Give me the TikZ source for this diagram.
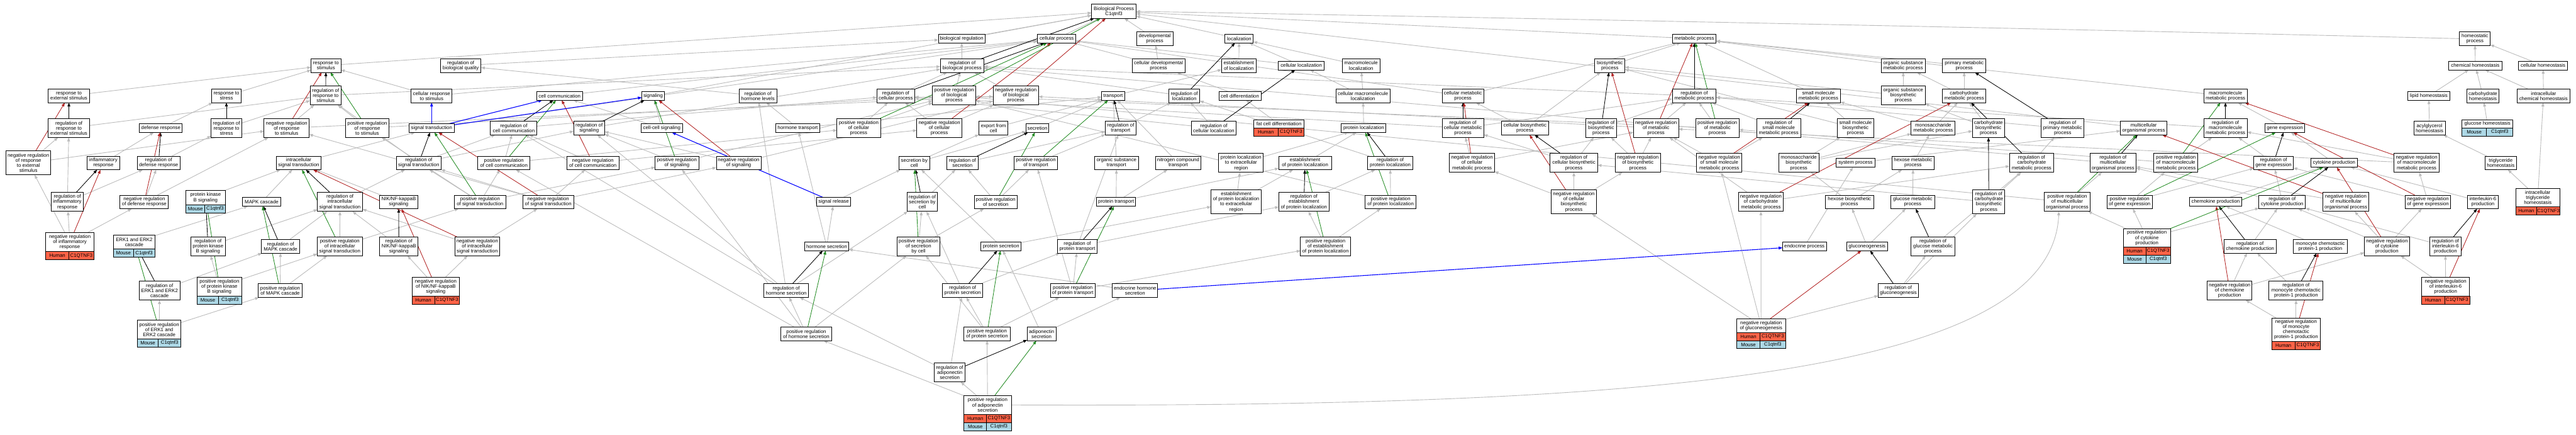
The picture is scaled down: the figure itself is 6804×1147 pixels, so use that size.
\documentclass[tikz,border=0pt]{standalone}
\usepackage{fontspec}
\setmainfont{Liberation Sans}
\usetikzlibrary{arrows.meta,calc,backgrounds}
\definecolor{edgegray}{RGB}{188,188,188}
\definecolor{tomatoc}{RGB}{255,99,71}
\definecolor{lblue}{RGB}{173,216,230}
\definecolor{fgreen}{RGB}{34,139,34}
\definecolor{fred}{RGB}{178,34,34}
\tikzset{
  box/.style={draw=black, line width=1.5pt, fill=white, align=center, inner xsep=2pt, inner ysep=0pt, outer sep=0pt, font=\fontsize{13}{13.5}\selectfont},
  cell/.style={draw=black, line width=1.2pt, inner sep=0pt, outer sep=0pt, minimum height=21.5pt, anchor=north west, font=\fontsize{13}{13.5}\selectfont},
  tip/.style={-{Triangle[length=10pt,width=7.5pt]}},
  isa/.style={tip, draw=edgegray, line width=1.5pt},
  regb/.style={tip, draw=black, line width=1.4pt},
  negr/.style={tip, draw=fred, line width=1.4pt},
  posg/.style={tip, draw=fgreen, line width=1.4pt},
  partb/.style={tip, draw=blue, line width=1.8pt}
}
\newcommand{\bx}[6]{\node[box,minimum width=#4pt,minimum height=#5pt] (#1) at (#2,#3) {#6};}
\newcommand{\gr}[7]{%
  \node[cell,fill=#3,minimum width=#6pt] (#1s#2) at ($(#1.south west)+(0,{21.5*#2})$) {#4};
  \node[cell,fill=#3,minimum width=#7pt] (#1g#2) at ($(#1.south west)+(#6,{21.5*#2})$) {#5};}
\begin{document}
\begin{tikzpicture}[x=1pt,y=-1pt]
\useasboundingbox (0,0) rectangle (6804,1147);
% rank 30/102
\bx{root}{2942}{30}{118}{37}{Biological Process\\C1qtnf3}
\bx{br}{2540}{102}{123}{23}{biological regulation}
\bx{cp}{2791}{102}{102}{23}{cellular process}
\bx{dp}{3050}{102}{96}{36}{developmental\\process}
\bx{loc}{3273}{102}{75}{23}{localization}
\bx{mp}{4475}{102}{116}{23}{metabolic process}
\bx{hp}{6537}{102}{81}{36}{homeostatic\\process}
% rank 173
\bx{rts}{861}{173}{79}{36}{response to\\stimulus}
\bx{rbq}{1217}{173}{107}{36}{regulation of\\biological quality}
\bx{rbp}{2541}{173}{115}{36}{regulation of\\biological process}
\bx{cdp}{3060}{173}{139}{36}{cellular developmental\\process}
\bx{eol}{3272}{173}{91}{36}{establishment\\of localization}
\bx{cl}{3437}{173}{121}{23}{cellular localization}
\bx{ml}{3595}{173}{99}{36}{macromolecule\\localization}
\bx{bp}{4252}{173}{80}{36}{biosynthetic\\process}
\bx{osmp}{5027}{173}{116}{36}{organic substance\\metabolic process}
\bx{pmp}{5188}{173}{115}{36}{primary metabolic\\process}
\bx{ch}{6538}{173}{140}{23}{chemical homeostasis}
\bx{cellh}{6717}{173}{130}{23}{cellular homeostasis}
% rank 253
\bx{rtes}{182}{253}{109}{36}{response to\\external stimulus}
\bx{rtstr}{598}{253}{79}{36}{response to\\stress}
\bx{rrts}{860}{252}{82}{50}{regulation of\\response to\\stimulus}
\bx{crts}{1140}{253}{108}{36}{cellular response\\to stimulus}
\bx{cc}{1478}{253}{122}{23}{cell communication}
\bx{sig}{1725}{253}{60}{23}{signaling}
\bx{rhl}{2002}{253}{99}{36}{regulation of\\hormone levels}
\bx{rcp}{2366}{253}{100}{36}{regulation of\\cellular process}
\bx{prbp}{2520}{252}{114}{50}{positive regulation\\of biological\\process}
\bx{nrbp}{2683}{252}{120}{50}{negative regulation\\of biological\\process}
\bx{tr}{2940}{253}{61}{23}{transport}
\bx{rloc}{3128}{253}{82}{36}{regulation of\\localization}
\bx{cd}{3275}{253}{111}{23}{cell differentiation}
\bx{cml}{3600}{253}{142}{36}{cellular macromolecule\\localization}
\bx{cmp}{3864}{253}{110}{36}{cellular metabolic\\process}
\bx{rmp}{4475}{253}{116}{36}{regulation of\\metabolic process}
\bx{smmp}{4803}{253}{116}{36}{small molecule\\metabolic process}
\bx{osbp}{5027}{252}{116}{50}{organic substance\\biosynthetic\\process}
\bx{chmp}{5188}{253}{115}{36}{carbohydrate\\metabolic process}
\bx{mmp}{5878}{253}{115}{36}{macromolecule\\metabolic process}
\bx{lh}{6415}{253}{111}{23}{lipid homeostasis}
\bx{chh}{6558}{253}{85}{36}{carbohydrate\\homeostasis}
\bx{ich}{6718}{253}{140}{36}{intracellular\\chemical homeostasis}
% rank 338
\bx{rrtes}{182}{338}{109}{50}{regulation of\\response to\\external stimulus}
\bx{dr}{425}{338}{113}{23}{defense response}
\bx{rrtstr}{598}{338}{81}{50}{regulation of\\response to\\stress}
\bx{nrrts}{757}{338}{119}{50}{negative regulation\\of response\\to stimulus}
\bx{prrts}{970}{338}{116}{50}{positive regulation\\of response\\to stimulus}
\bx{st}{1140}{338}{119}{23}{signal transduction}
\bx{rcc}{1357}{338}{123}{36}{regulation of\\cell communication}
\bx{rsig}{1556}{338}{82}{36}{regulation of\\signaling}
\bx{ccs}{1748}{338}{109}{23}{cell-cell signaling}
\bx{ht}{2107}{338}{115}{23}{hormone transport}
\bx{prcp}{2268}{338}{115}{50}{positive regulation\\of cellular\\process}
\bx{nrcp}{2481}{338}{119}{50}{negative regulation\\of cellular\\process}
\bx{efc}{2624}{338}{77}{36}{export from\\cell}
\bx{sec}{2740}{338}{61}{23}{secretion}
\bx{rtr}{2960}{338}{81}{36}{regulation of\\transport}
\bx{rcl}{3206}{338}{119}{36}{regulation of\\cellular localization}
\bx{fcd}{3378}{327}{133}{22}{fat cell differentiation}
\bx{pl}{3602}{338}{118}{23}{protein localization}
\bx{rcmp}{3864}{338}{110}{50}{regulation of\\cellular metabolic\\process}
\bx{cbp}{4028}{338}{125}{36}{cellular biosynthetic\\process}
\bx{rbiop}{4229}{338}{81}{50}{regulation of\\biosynthetic\\process}
\bx{nrmp}{4374}{338}{119}{50}{negative regulation\\of metabolic\\process}
\bx{prmp}{4536}{338}{115}{50}{positive regulation\\of metabolic\\process}
\bx{rsmmp}{4698}{338}{116}{50}{regulation of\\small molecule\\metabolic process}
\bx{smbp}{4901}{338}{97}{50}{small molecule\\biosynthetic\\process}
\bx{msmp}{5106}{338}{116}{36}{monosaccharide\\metabolic process}
\bx{chbp}{5252}{338}{85}{50}{carbohydrate\\biosynthetic\\process}
\bx{rpmp}{5448}{338}{113}{50}{regulation of\\primary metabolic\\process}
\bx{mop}{5662}{338}{123}{36}{multicellular\\organismal process}
\bx{rmmp}{5878}{338}{115}{50}{regulation of\\macromolecule\\metabolic process}
\bx{ge}{6035}{338}{105}{23}{gene expression}
\bx{agh}{6417}{338}{83}{36}{acylglycerol\\homeostasis}
\bx{gh}{6570}{327}{135}{22}{glucose homeostasis}
% rank 430
\bx{nrrtes}{75}{430}{118}{63}{negative regulation\\of response\\to external\\stimulus}
\bx{ir}{273}{430}{86}{36}{inflammatory\\response}
\bx{rdr}{419}{430}{113}{36}{regulation of\\defense response}
\bx{ist}{789}{430}{119}{36}{intracellular\\signal transduction}
\bx{rst}{1106}{430}{118}{36}{regulation of\\signal transduction}
\bx{prcc}{1331}{430}{138}{36}{positive regulation\\of cell communication}
\bx{nrcc}{1566}{430}{138}{36}{negative regulation\\of cell communication}
\bx{psig}{1788}{430}{115}{36}{positive regulation\\of signaling}
\bx{nsig}{1951}{430}{118}{36}{negative regulation\\of signaling}
\bx{sbc}{2415}{430}{82}{36}{secretion by\\cell}
\bx{rsec}{2542}{430}{82}{36}{regulation of\\secretion}
\bx{prtr}{2736}{430}{114}{36}{positive regulation\\of transport}
\bx{ost}{2949}{430}{116}{36}{organic substance\\transport}
\bx{nct}{3112}{430}{120}{36}{nitrogen compound\\transport}
\bx{plter}{3278}{430}{118}{50}{protein localization\\to extracellular\\region}
\bx{epl}{3447}{430}{139}{36}{establishment\\of protein localization}
\bx{rpl}{3672}{430}{119}{36}{regulation of\\protein localization}
\bx{nrcmp}{3888}{430}{119}{50}{negative regulation\\of cellular\\metabolic process}
\bx{rcbp}{4157}{430}{126}{50}{regulation of\\cellular biosynthetic\\process}
\bx{nrbiop}{4326}{430}{119}{50}{negative regulation\\of biosynthetic\\process}
\bx{nrsmmp}{4541}{430}{119}{50}{negative regulation\\of small molecule\\metabolic process}
\bx{msbp}{4751}{430}{106}{50}{monosaccharide\\biosynthetic\\process}
\bx{sp}{4901}{430}{104}{23}{system process}
\bx{hmp}{5053}{430}{112}{36}{hexose metabolic\\process}
\bx{rchmp}{5366}{430}{117}{50}{regulation of\\carbohydrate\\metabolic process}
\bx{rmop}{5581}{430}{122}{50}{regulation of\\multicellular\\organismal process}
\bx{pmmp}{5747}{430}{116}{50}{positive regulation\\of macromolecule\\metabolic process}
\bx{rge}{6005}{430}{105}{36}{regulation of\\gene expression}
\bx{cytp}{6165}{430}{122}{23}{cytokine production}
\bx{nmmp}{6383}{430}{120}{50}{negative regulation\\of macromolecule\\metabolic process}
\bx{tgh}{6605}{430}{84}{36}{triglyceride\\homeostasis}
% rank 533
\bx{rir}{178}{533}{85}{50}{regulation of\\inflammatory\\response}
\bx{nrdr}{381}{533}{128}{36}{negative regulation\\of defense response}
\bx{pkb}{543}{521.5}{104}{37}{protein kinase\\B signaling}
\bx{mapk}{691}{533}{102}{23}{MAPK cascade}
\bx{rist}{898}{533}{119}{50}{regulation of\\intracellular\\signal transduction}
\bx{nik}{1053}{533}{101}{36}{NIK/NF-kappaB\\signaling}
\bx{pst}{1268}{533}{135}{36}{positive regulation\\of signal transduction}
\bx{nst}{1448}{533}{134}{36}{negative regulation\\of signal transduction}
\bx{sr}{2202}{533}{90}{23}{signal release}
\bx{rsbc}{2436}{533}{81}{50}{regulation of\\secretion by\\cell}
\bx{psec}{2630}{533}{114}{36}{positive regulation\\of secretion}
\bx{pt}{2948}{533}{103}{23}{protein transport}
\bx{epler}{3265}{533}{133}{63}{establishment\\of protein localization\\to extracellular\\region}
\bx{repl}{3444}{533}{133}{50}{regulation of\\establishment\\of protein localization}
\bx{ppl}{3673}{533}{134}{36}{positive regulation\\of protein localization}
\bx{nrcbp}{4157}{533}{119}{63}{negative regulation\\of cellular\\biosynthetic\\process}
\bx{nrchmp}{4651}{533}{118}{50}{negative regulation\\of carbohydrate\\metabolic process}
\bx{hbp}{4885}{533}{127}{36}{hexose biosynthetic\\process}
\bx{gmp}{5052}{533}{115}{36}{glucose metabolic\\process}
\bx{rchbp}{5253}{533}{85}{63}{regulation of\\carbohydrate\\biosynthetic\\process}
\bx{pmop}{5460}{533}{122}{50}{positive regulation\\of multicellular\\organismal process}
\bx{pge}{5625}{533}{119}{36}{positive regulation\\of gene expression}
\bx{chp}{5852}{533}{137}{23}{chemokine production}
\bx{rcytp}{6028}{533}{123}{36}{regulation of\\cytokine production}
\bx{nmop}{6196}{533}{122}{50}{negative regulation\\of multicellular\\organismal process}
\bx{nge}{6413}{533}{119}{36}{negative regulation\\of gene expression}
\bx{il6p}{6558}{533}{80}{36}{interleukin-6\\production}
\bx{itgh}{6703}{521.5}{117}{49}{intracellular\\triglyceride\\homeostasis}
% rank 650
\bx{nrir}{184.5}{639}{127}{50}{negative regulation\\of inflammatory\\response}
\bx{erk}{354.5}{639}{109}{36}{ERK1 and ERK2\\cascade}
\bx{rpkb}{549.5}{650}{91}{50}{regulation of\\protein kinase\\B signaling}
\bx{rmapk}{741}{650}{102}{36}{regulation of\\MAPK cascade}
\bx{prist}{897.5}{650}{119}{50}{positive regulation\\of intracellular\\signal transduction}
\bx{rnik}{1053.5}{650}{101}{50}{regulation of\\NIK/NF-kappaB\\signaling}
\bx{nrist}{1260.5}{650}{119}{50}{negative regulation\\of intracellular\\signal transduction}
\bx{hs}{2183.5}{650}{117}{23}{hormone secretion}
\bx{psbc}{2426}{650}{114}{50}{positive regulation\\of secretion\\by cell}
\bx{ps}{2644}{650}{106}{23}{protein secretion}
\bx{rpt}{2845.5}{650}{105}{36}{regulation of\\protein transport}
\bx{ppepl}{3501}{650}{132}{50}{positive regulation\\of establishment\\of protein localization}
\bx{ep}{4766}{650}{116}{23}{endocrine process}
\bx{gng}{4931.5}{650}{107}{23}{gluconeogenesis}
\bx{rgmp}{5105.5}{650}{115}{50}{regulation of\\glucose metabolic\\process}
\bx{pcp}{5670.5}{628}{125}{48}{positive regulation\\of cytokine\\production}
\bx{rchp}{5943}{650}{138}{36}{regulation of\\chemokine production}
\bx{mcp}{6128.5}{650}{143}{36}{monocyte chemotactic\\protein-1 production}
\bx{ncytp}{6304.5}{650}{119}{50}{negative regulation\\of cytokine\\production}
\bx{ril6}{6459}{650}{82}{50}{regulation of\\interleukin-6\\production}
% rank 767
\bx{nrnik}{1151}{756.5}{126}{49}{negative regulation\\of NIK/NF-kappaB\\signaling}
\bx{rerk}{421.5}{767}{107}{50}{regulation of\\ERK1 and ERK2\\cascade}
\bx{ppkb}{579.5}{756.5}{117}{49}{positive regulation\\of protein kinase\\B signaling}
\bx{pmapk}{740}{767}{116}{36}{positive regulation\\of MAPK cascade}
\bx{rhs}{2076.5}{767}{117}{36}{regulation of\\hormone secretion}
\bx{rps}{2542.5}{767}{107}{36}{regulation of\\protein secretion}
\bx{ppt}{2833.5}{767}{119}{36}{positive regulation\\of protein transport}
\bx{ehs}{2998}{767}{120}{36}{endocrine hormone\\secretion}
\bx{rgng}{5014}{767}{106}{36}{regulation of\\gluconeogenesis}
\bx{nchp}{5889}{767}{118}{50}{negative regulation\\of chemokine\\production}
\bx{rmcp}{6064.5}{767}{143}{50}{regulation of\\monocyte chemotactic\\protein-1 production}
\bx{nil6}{6459.5}{756.5}{127}{49}{negative regulation\\of interleukin-6\\production}
% rank 881
\bx{perk}{420.5}{869.5}{115}{49}{positive regulation\\of ERK1 and\\ERK2 cascade}
\bx{phs}{2129.5}{881}{133}{36}{positive regulation\\of hormone secretion}
\bx{pps}{2607}{881}{122}{36}{positive regulation\\of protein secretion}
\bx{as}{2751}{881}{76}{36}{adiponectin\\secretion}
\bx{nrgng}{4651.5}{859}{129}{36}{negative regulation\\of gluconeogenesis}
\bx{nmcp}{6064.5}{870}{129}{62}{negative regulation\\of monocyte\\chemotactic\\protein-1 production}
\bx{ras}{2508.5}{983}{81}{50}{regulation of\\adiponectin\\secretion}
\bx{pas}{2608.5}{1068.5}{125}{49}{positive regulation\\of adiponectin\\secretion}
% gene rows
\gr{nrir}{0}{tomatoc}{Human}{C1QTNF3}{61}{66}
\gr{erk}{0}{lblue}{Mouse}{C1qtnf3}{52}{57}
\gr{pkb}{0}{lblue}{Mouse}{C1qtnf3}{50}{54}
\gr{ppkb}{0}{lblue}{Mouse}{C1qtnf3}{56}{61}
\gr{perk}{0}{lblue}{Mouse}{C1qtnf3}{55}{60}
\gr{nrnik}{0}{tomatoc}{Human}{C1QTNF3}{60}{66}
\gr{fcd}{0}{tomatoc}{Human}{C1QTNF3}{64}{69}
\gr{gh}{0}{lblue}{Mouse}{C1qtnf3}{65}{70}
\gr{itgh}{0}{tomatoc}{Human}{C1QTNF3}{56}{61}
\gr{nil6}{0}{tomatoc}{Human}{C1QTNF3}{61}{66}
\gr{nmcp}{0}{tomatoc}{Human}{C1QTNF3}{62}{67}
\gr{pas}{0}{tomatoc}{Human}{C1QTNF3}{60}{65}
\gr{pas}{1}{lblue}{Mouse}{C1qtnf3}{60}{65}
\gr{nrgng}{0}{tomatoc}{Human}{C1QTNF3}{62}{67}
\gr{nrgng}{1}{lblue}{Mouse}{C1qtnf3}{62}{67}
\gr{pcp}{0}{tomatoc}{Human}{C1QTNF3}{60}{65}
\gr{pcp}{1}{lblue}{Mouse}{C1qtnf3}{60}{65}
% edges
\begin{scope}[on background layer]
\fill[white] (0,0) rectangle (6804,1147);
\foreach \a/\b in {rts/root,br/root,cp/root,dp/root,loc/root,mp/root,sig/root,mop/root,
 rbp/br,rbq/br,rhl/rbq,rtes/rts,rtstr/rts,crts/rts,crts/cp,cc/cp,cdp/dp,cdp/cp,cd/cdp,fcd/cd,
 eol/loc,cl/loc,cl/cp,ml/loc,cml/ml,cml/cl,pl/cml,tr/eol,efc/tr,sec/tr,sbc/sec,sbc/efc,ost/tr,nct/tr,
 pt/ost,pt/nct,pt/epl,epl/pl,plter/pl,epler/plter,epler/epl,ps/epler,ps/sbc,
 ht/tr,ht/rhl,hs/ht,hs/sr,sr/sbc,ehs/hs,as/ps,as/ehs,
 rrts/rbp,rcp/rbp,rloc/rbp,rmp/rbp,rmop/rbp,prbp/rbp,nrbp/rbp,prcp/rcp,prcp/prbp,nrcp/rcp,nrcp/nrbp,
 rrtes/rrts,rrtstr/rrts,nrrts/rrts,nrrts/nrbp,prrts/rrts,prrts/prbp,
 dr/rtstr,ir/dr,rdr/rrtstr,nrdr/rdr,nrdr/nrrts,rir/rrtes,rir/rdr,nrir/rir,nrir/nrrtes,nrir/nrdr,nrrtes/rrtes,nrrtes/nrrts,
 st/cp,ist/st,pkb/ist,mapk/ist,nik/ist,erk/mapk,
 rst/rcc,rst/rsig,rst/rrts,rist/rst,rpkb/rist,rmapk/rist,rnik/rist,rerk/rmapk,
 pst/rst,pst/prcc,pst/psig,pst/prrts,nst/rst,nst/nrcc,nst/nsig,nst/nrrts,
 prist/rist,prist/pst,nrist/rist,nrist/nst,
 ppkb/rpkb,ppkb/prist,pmapk/rmapk,pmapk/prist,perk/rerk,perk/pmapk,nrnik/rnik,nrnik/nrist,
 rcc/rcp,rsig/rbp,prcc/rcc,prcc/prcp,nrcc/rcc,nrcc/nrcp,psig/rsig,psig/prbp,nsig/rsig,nsig/nrbp,ccs/cc,ccs/sig,
 rhs/rhl,rhs/rsbc,rhs/rsig,rhs/rcc,phs/rhs,phs/psbc,phs/psig,phs/prcc,
 rtr/rloc,rcl/rloc,rcl/rcp,rsec/rtr,rsbc/rsec,psec/rsec,psec/prtr,prtr/rtr,psbc/rsbc,psbc/psec,
 rpt/rtr,rpt/repl,ppt/rpt,ppt/prtr,ppt/ppepl,rps/rpt,rps/rsbc,pps/rps,pps/ppt,pps/psbc,
 ras/rps,ras/rhs,pas/ras,pas/pps,pas/phs,
 repl/rpl,ppepl/repl,ppepl/ppl,rpl/rloc,ppl/rpl,ppl/prbp,
 cmp/mp,cmp/cp,bp/mp,cbp/bp,cbp/cmp,osmp/mp,pmp/mp,osbp/osmp,osbp/bp,smmp/mp,smbp/smmp,smbp/bp,
 chmp/osmp,chmp/pmp,chbp/chmp,chbp/osbp,msmp/chmp,msmp/smmp,msbp/msmp,msbp/smbp,msbp/chbp,
 hmp/msmp,hbp/hmp,hbp/msbp,gmp/hmp,gng/hbp,gng/gmp,mmp/mp,ge/mmp,cytp/ge,chp/cytp,mcp/chp,il6p/cytp,
 rcmp/rmp,rcmp/rcp,nrcmp/rcmp,nrcmp/nrmp,rbiop/rmp,rcbp/rbiop,rcbp/rcmp,nrbiop/rbiop,nrbiop/nrmp,
 nrcbp/rcbp,nrcbp/nrbiop,nrcbp/nrcmp,nrmp/rmp,nrmp/nrbp,prmp/rmp,prmp/prbp,rsmmp/rmp,nrsmmp/rsmmp,nrsmmp/nrmp,
 rpmp/rmp,rchmp/rpmp,rchbp/rchmp,rchbp/rcbp,nrchmp/rchmp,nrchmp/nrmp,rgmp/rchmp,rgng/rgmp,rgng/rchbp,
 nrgng/rgng,nrgng/nrchmp,nrgng/nrcbp,nrgng/nrsmmp,
 sp/mop,ep/sp,pmop/rmop,pmop/prbp,nmop/rmop,
 rmmp/rmp,pmmp/rmmp,pmmp/prmp,nmmp/rmmp,nmmp/nrmp,rge/rmmp,pge/rge,pge/pmmp,nge/rge,nge/nmmp,
 rcytp/rge,rcytp/rmop,pcp/rcytp,pcp/pge,pcp/pmop,ncytp/rcytp,ncytp/nge,ncytp/nmop,rchp/rcytp,nchp/rchp,nchp/ncytp,
 rmcp/rchp,nmcp/rmcp,nmcp/nchp,ril6/rcytp,nil6/ril6,nil6/ncytp,
 ch/hp,cellh/hp,lh/ch,chh/ch,ich/ch,ich/cellh,agh/lh,gh/chh,tgh/agh,itgh/tgh,itgh/ich}
 {\draw[isa] (\a) -- (\b);}
% long routed grey edges
\draw[isa] (pas.east) .. controls (4300,1075) and (5420,1000) .. ($(pmop.south)+(-22,0)$);
\draw[isa] (hp.west) .. controls (5200,70) and (3600,40) .. (root.east);
\foreach \a/\b in {rrts/rts,rrtes/rtes,rrtstr/rtstr,rdr/dr,rir/ir,rst/st,rist/ist,rpkb/pkb,rmapk/mapk,rnik/nik,rerk/erk,
 rcc/cc,rsig/sig,rhs/hs,rbp/root,rcp/cp,rloc/loc,rtr/tr,rcl/cl,rsec/sec,rsbc/sbc,rpt/pt,rps/ps,ras/as,rpl/pl,repl/epl,
 rmp/mp,rcmp/cmp,rbiop/bp,rcbp/cbp,rsmmp/smmp,rpmp/pmp,rchmp/chmp,rchbp/chbp,rgmp/gmp,rgng/gng,rmop/mop,rmmp/mmp,
 rge/ge,rcytp/cytp,rchp/chp,rmcp/mcp,ril6/il6p}
 {\draw[regb] (\a) -- (\b);}
\foreach \a/\b in {nrrts/rts,nrrtes/rtes,nrdr/dr,nrir/ir,nst/st,nrist/ist,nrnik/nik,nrcc/cc,nsig/sig,nrbp/root,nrcp/cp,
 nrmp/mp,nrcmp/cmp,nrbiop/bp,nrcbp/cbp,nrsmmp/smmp,nrchmp/chmp,nrgng/gng,nmop/mop,nmmp/mmp,nge/ge,ncytp/cytp,
 nchp/chp,nmcp/mcp,nil6/il6p}
 {\draw[negr] (\a) -- (\b);}
\foreach \a/\b in {prrts/rts,pst/st,prist/ist,ppkb/pkb,pmapk/mapk,perk/erk,prcc/cc,psig/sig,phs/hs,prbp/root,prcp/cp,
 prtr/tr,psec/sec,psbc/sbc,ppt/pt,pps/ps,pas/as,ppl/pl,ppepl/epl,prmp/mp,pmop/mop,pmmp/mmp,pge/ge,pcp/cytp}
 {\draw[posg] (\a) -- (\b);}
\foreach \a/\b in {st/crts,st/cc,st/sig,sr/ccs,ehs/ep}
 {\draw[partb] (\a) -- (\b);}
\end{scope}
\end{tikzpicture}
\end{document}
